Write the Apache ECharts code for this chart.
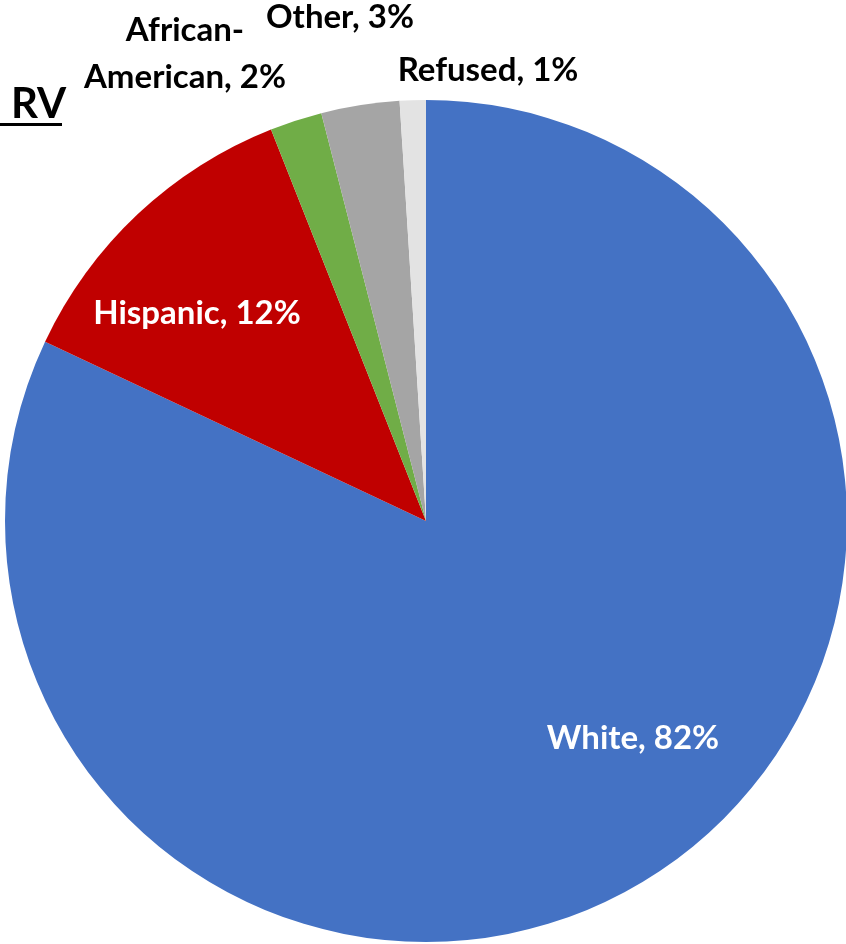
<!DOCTYPE html>
<html>
<head>
<meta charset="utf-8">
<script src="https://cdn.jsdelivr.net/npm/echarts@6/dist/echarts.min.js"></script>
<style>
html,body{margin:0;padding:0;background:#fff;}
#chart{width:846px;height:944px;}
</style>
</head>
<body>
<div id="chart"></div>
<script>
const categories = ['White', 'Hispanic', 'African-American', 'Other', 'Refused'];
const values = [82, 12, 2, 3, 1];
const title = 'RV';

const colors = ['#4472C4', '#C00000', '#70AD47', '#A5A5A5', '#E3E3E3'];
const labelColors = ['#ffffff', '#ffffff', '#000000', '#000000', '#000000'];
const labelPos = [[633, 738], [197, 313], [185, 54], [340, 17], [488, 70]];
const FONT = 'Lato';

const chart = echarts.init(document.getElementById('chart'), null, {renderer: 'canvas'});
chart.setOption({
  animation: false,
  title: {
    text: title,
    left: 6, top: 78,
    textStyle: {fontFamily: FONT, fontWeight: 'bold', fontSize: 42, color: '#000'}
  },
  graphic: [{
    type: 'rect', shape: {x: 0, y: 123, width: 62, height: 3},
    style: {fill: '#000'}
  }],
  series: [{
    type: 'pie',
    center: [426, 521],
    radius: 421,
    startAngle: 90,
    clockwise: true,
    avoidLabelOverlap: false,
    itemStyle: {borderWidth: 0},
    labelLine: {show: false},
    label: {
      show: true,
      position: 'inside',
      fontFamily: FONT, fontWeight: 'bold', fontSize: 33,
      lineHeight: 47,
      align: 'center',
      formatter: p => p.name.replace('-', '-\n') + ', ' + p.value + '%'
    },
    labelLayout: p => ({
      x: labelPos[p.dataIndex][0], y: labelPos[p.dataIndex][1],
      align: 'center', verticalAlign: 'middle', hideOverlap: false
    }),
    data: categories.map((c, i) => ({
      name: c, value: values[i],
      itemStyle: {color: colors[i]},
      label: {color: labelColors[i]}
    }))
  }]
});
</script>
</body>
</html>
